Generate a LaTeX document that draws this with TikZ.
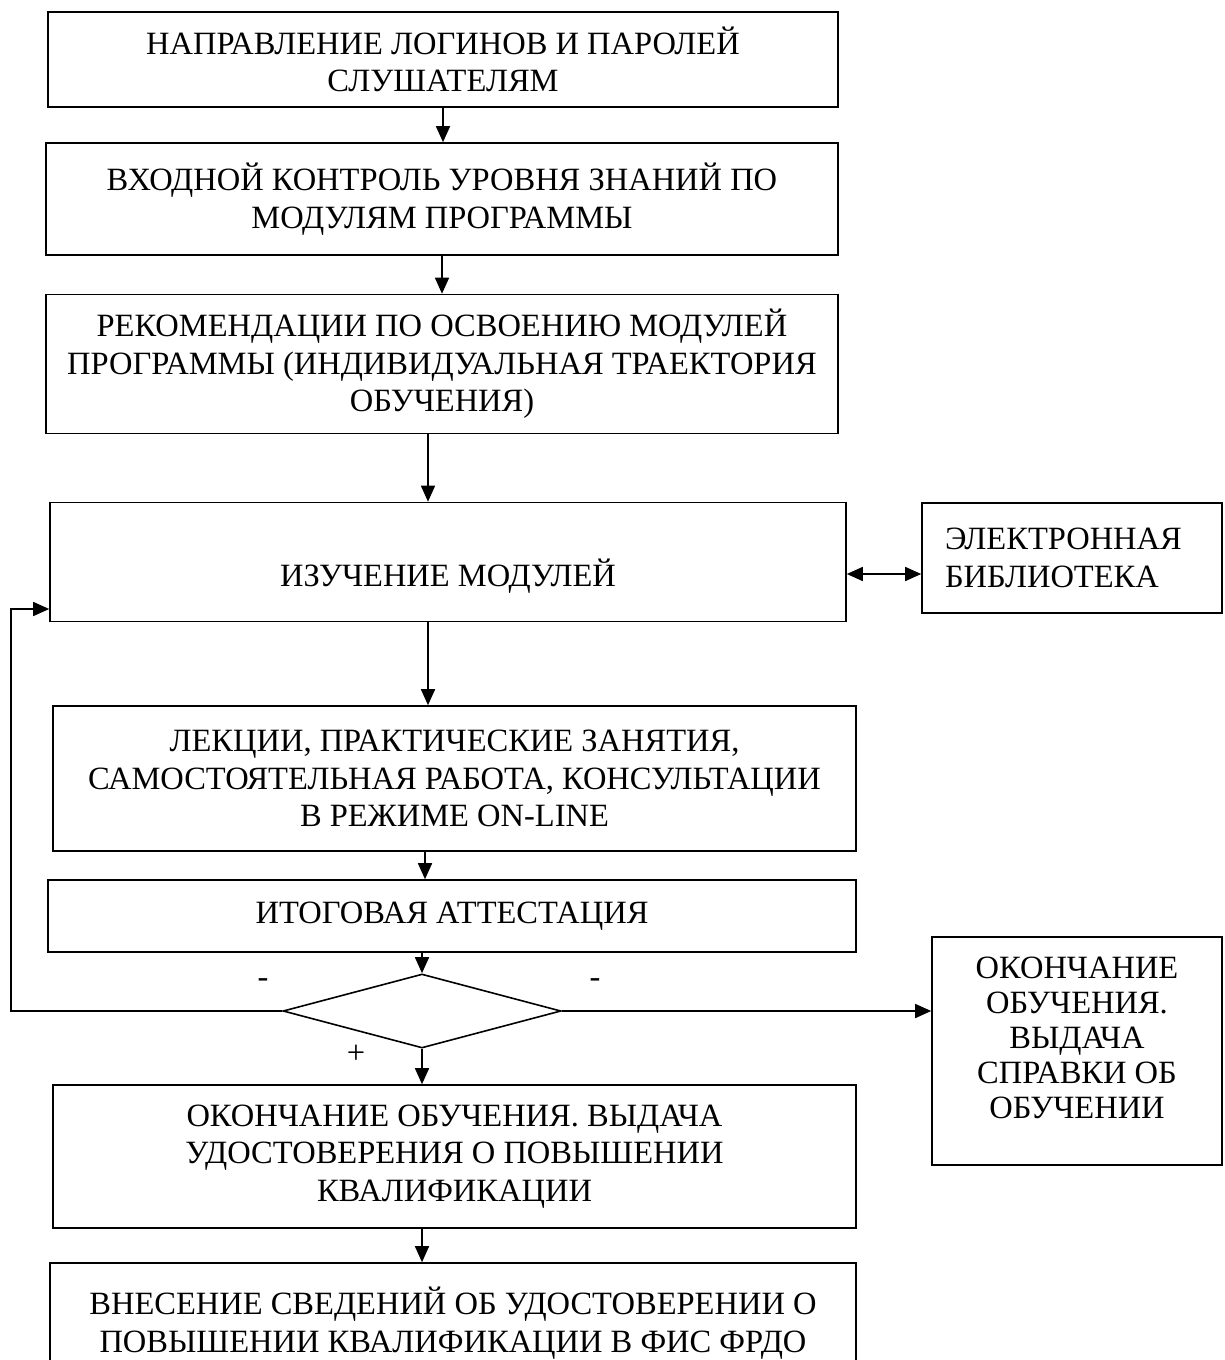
\documentclass[tikz,border=0pt]{standalone}
\usepackage{fontspec}
\setmainfont{Liberation Serif}
\usetikzlibrary{shapes.geometric,arrows.meta}

\tikzset{
  blok/.style={draw, line width=1.6pt, align=center, inner sep=0pt},
  arr/.style={line width=1.6pt, -{Triangle[length=16pt,width=14pt]}},
  arr2/.style={line width=1.6pt, {Triangle[length=16pt,width=14pt]}-{Triangle[length=16pt,width=14pt]}},
}

\begin{document}
\begin{tikzpicture}[x=1pt,y=-1pt,font=\fontsize{32.5}{37.5}\selectfont]
\useasboundingbox (0,0) rectangle (1224,1360);

%% main column
\node[blok, minimum width=790pt, minimum height=95pt] (b1) at (443,59.5)
  {НАПРАВЛЕНИЕ ЛОГИНОВ И ПАРОЛЕЙ\\СЛУШАТЕЛЯМ};
\node[blok, minimum width=792pt, minimum height=112pt] (b2) at (442,199)
  {ВХОДНОЙ КОНТРОЛЬ УРОВНЯ ЗНАНИЙ ПО\\МОДУЛЯМ ПРОГРАММЫ};
\node[blok, minimum width=792pt, minimum height=139pt] (b3) at (442,364)
  {РЕКОМЕНДАЦИИ ПО ОСВОЕНИЮ МОДУЛЕЙ\\ПРОГРАММЫ (ИНДИВИДУАЛЬНАЯ ТРАЕКТОРИЯ\\ОБУЧЕНИЯ)};
\node[blok, minimum width=796pt, minimum height=119pt, text height=48pt, text depth=0pt] (b4) at (448,562)
  {ИЗУЧЕНИЕ МОДУЛЕЙ};
\node[blok, minimum width=803pt, minimum height=145pt] (b5) at (454.5,778.5)
  {ЛЕКЦИИ, ПРАКТИЧЕСКИЕ ЗАНЯТИЯ,\\САМОСТОЯТЕЛЬНАЯ РАБОТА, КОНСУЛЬТАЦИИ\\В РЕЖИМЕ ON-LINE};
\node[blok, minimum width=808pt, minimum height=72pt] (b6) at (452,916)
  {ИТОГОВАЯ АТТЕСТАЦИЯ};
\node[blok, diamond, minimum width=278pt, minimum height=74pt] (dia) at (422,1011) {};
\node[blok, minimum width=803pt, minimum height=143pt] (b7) at (454.5,1156.5)
  {ОКОНЧАНИЕ ОБУЧЕНИЯ. ВЫДАЧА\\УДОСТОВЕРЕНИЯ О ПОВЫШЕНИИ\\КВАЛИФИКАЦИИ};
\node[blok, minimum width=806pt, minimum height=120pt] (b8) at (453,1323)
  {ВНЕСЕНИЕ СВЕДЕНИЙ ОБ УДОСТОВЕРЕНИИ О\\ПОВЫШЕНИИ КВАЛИФИКАЦИИ В ФИС ФРДО};

%% side boxes
\node[blok, align=left, text width=254pt, minimum width=300pt, minimum height=110pt] (lib) at (1072,558)
  {ЭЛЕКТРОННАЯ\\БИБЛИОТЕКА};
\node[blok, font=\fontsize{32.5}{35}\selectfont, text depth=26pt, minimum width=290pt, minimum height=228pt] (okon) at (1077,1051)
  {ОКОНЧАНИЕ\\ОБУЧЕНИЯ.\\ВЫДАЧА\\СПРАВКИ ОБ\\ОБУЧЕНИИ};

%% branch marks
\node (minusL) at (263,983) {-};
\node (minusR) at (595,983) {-};
\node (plus) at (356,1054) {+};

\coordinate (loop) at (11,609);

%% arrows
\draw[arr] (b1.south) -- (b1.south |- b2.north);
\draw[arr] (b2.south) -- (b2.south |- b3.north);
\draw[arr] ([xshift=6pt]b3.south -| dia.north) -- ([xshift=6pt]b4.north -| dia.north);
\draw[arr] ([xshift=6pt]b4.south -| dia.north) -- ([xshift=6pt]b5.north -| dia.north);
\draw[arr] ([xshift=3pt]b5.south -| dia.north) -- ([xshift=3pt]b6.north -| dia.north);
\draw[arr] (b6.south -| dia.north) -- (dia.north);
\draw[arr] (dia.south) -- (b7.north -| dia.south);
\draw[arr] (b7.south -| dia.south) -- (b8.north -| dia.south);
\draw[arr2] ([yshift=-12pt]b4.east) -- ([yshift=-12pt]b4.east -| lib.west);
\draw[arr] (dia.east) -- (dia.east -| okon.west);
\draw[arr] (dia.west) -| (loop) -- (loop -| b4.west);
\end{tikzpicture}
\end{document}
